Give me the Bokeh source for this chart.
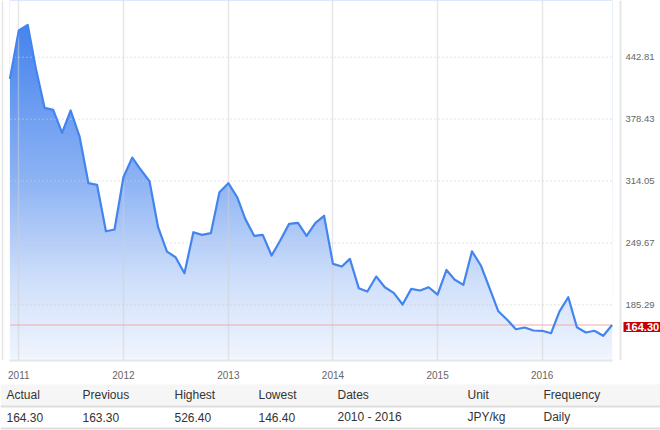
import numpy as np
import pandas as pd
from bokeh.plotting import figure
from bokeh.layouts import column
from bokeh.models import (Range1d, FixedTicker, DatetimeTickFormatter, Label, Span)
from bokeh.embed import file_html
from bokeh.resources import INLINE
from bokeh.core.properties import value

# ---------------- data ----------------
months = pd.date_range("2010-12-01", periods=70, freq="MS")
prices = [
    420.3,
    470.6, 476.5, 432.0, 390.2, 388.1, 364.2, 387.4, 360.3, 311.8, 310.1, 261.8, 263.6,
    318.0, 338.5, 326.0, 313.8, 266.0, 240.7, 234.8, 218.2, 260.8, 258.1, 259.8, 302.4,
    311.8, 297.2, 274.7, 257.1, 258.1, 236.6, 252.2, 269.5, 270.6, 257.1, 270.6, 277.9,
    227.9, 225.1, 233.1, 202.6, 199.1, 214.7, 203.6, 197.8, 185.6, 201.9, 200.2, 203.6,
    196.0, 221.7, 211.6, 206.1, 241.0, 226.2, 203.0, 178.6, 169.7, 159.9, 161.7, 158.6,
    158.3, 155.8, 178.3, 193.2, 162.0, 156.5, 158.3, 153.1, 164.3,
]
year_ticks = [2011, 2012, 2013, 2014, 2015, 2016]
price_ticks = [442.81, 378.43, 314.05, 249.67, 185.29]
headers = ["Actual", "Previous", "Highest", "Lowest", "Dates", "Unit", "Frequency"]
stats = ["164.30", "163.30", "526.40", "146.40", "2010 - 2016", "JPY/kg", "Daily"]

# ---------------- style / layout ----------------
FONT = "Liberation Sans"
LINE = "#4384ee"
GRID = "#e6e6e6"
W = 660
col_x = [6, 82, 174, 258, 337, 467, 543]


def ms(ts):
    return pd.Timestamp(ts).timestamp() * 1000


year_ms = [ms(f"{y}-01-01") for y in year_ticks]
# horizontal calibration: first year tick at px 18.3, last at px 541.7
ms_per_px = (year_ms[-1] - year_ms[0]) / (541.7 - 18.3)
x_start = year_ms[0] - 18.3 * ms_per_px


def px(xpix):
    return x_start + xpix * ms_per_px


y_lo, y_hi = 127.4, 501.8

p = figure(frame_width=W, frame_height=360, x_axis_type="datetime",
           y_axis_location=None,
           x_range=Range1d(px(0), px(W)), y_range=Range1d(y_lo, y_hi),
           toolbar_location=None, output_backend="svg",
           min_border_left=0, min_border_right=0, min_border_top=0,
           min_border_bottom=23)
p.background_fill_color = "white"
p.border_fill_color = "white"
p.outline_line_color = None

# vertical gradient (pre-blended on white), masked above the series
n = 256
ys = np.linspace(y_lo, y_hi, n)
alpha = np.interp(ys, [y_lo, 132, 210, 314, 470, y_hi],
                  [0.05, 0.09, 0.26, 0.62, 1.0, 1.0])
base = (72, 133, 237)
img = np.empty((n, 1), dtype=np.uint32)
view = img.view(dtype=np.uint8).reshape((n, 1, 4))
for i in range(3):
    view[:, 0, i] = np.round(255 - alpha * (255 - base[i])).astype(np.uint8)
view[:, 0, 3] = 255
x0_ms = ms(months[0])
x1_ms = ms(months[-1])
p.image_rgba(image=[img], x=x0_ms, y=y_lo, dw=x1_ms - x0_ms, dh=y_hi - y_lo, level="image")
p.varea(x=months, y1=prices, y2=y_hi, fill_color="white", level="image")

# vertical grid lines at years
p.xgrid.grid_line_color = "#cfcfcf"
p.xgrid.grid_line_alpha = 0.5
p.xgrid.grid_line_width = 1.5
p.ygrid.visible = False

# horizontal dotted grid lines
p.segment(x0=[x0_ms] * len(price_ticks), x1=[x1_ms] * len(price_ticks),
          y0=price_ticks, y1=price_ticks, line_color="#d0d0d0", line_alpha=0.6,
          line_dash="2 2", line_width=1)

# separators left / right
p.add_layout(Span(location=px(2), dimension="height", line_color=GRID, line_width=1.5))
p.add_layout(Span(location=px(620), dimension="height", line_color=GRID, line_width=2))

# last value line
p.line(x=[months[0], months[-1]], y=[prices[-1], prices[-1]],
       line_color="#f2aaaa", line_width=1.2)
# series line
p.line(x=months, y=prices, line_color=LINE, line_width=2.2, line_join="round")

# right-hand value labels
p.text(x=[px(625)] * len(price_ticks), y=price_ticks,
       text=[f"{v:.2f}" for v in price_ticks], text_baseline="middle",
       text_align="left", text_font=value(FONT), text_font_size="9.5px",
       text_color="#666666")

# x axis
p.xaxis.ticker = FixedTicker(ticks=year_ms)
p.xaxis.formatter = DatetimeTickFormatter(years="%Y", months="%Y", days="%Y")
p.xaxis.bounds = (x0_ms, x1_ms)
p.xaxis.major_tick_line_color = None
p.xaxis.minor_tick_line_color = None
p.xaxis.axis_line_color = GRID
p.xaxis.axis_line_width = 2
p.xaxis.major_label_standoff = 4
p.xaxis.major_label_text_font = FONT
p.xaxis.major_label_text_font_size = "10px"
p.xaxis.major_label_text_color = "#666666"

lab = Label(x=px(623), y=prices[-1], y_offset=-2,
            text=f"{prices[-1]:.2f}", text_color="white",
            text_font=FONT, text_font_size="11px", text_font_style="bold",
            text_baseline="middle", text_align="left",
            background_fill_color="#c40000", padding=(2, 1))
p.add_layout(lab)

# ---------------- table ----------------
TH = 47
p2 = figure(width=W, height=TH, x_range=Range1d(0, W), y_range=Range1d(TH, 0),
            x_axis_location=None, y_axis_location=None,
            toolbar_location=None, output_backend="svg", min_border=0)
p2.grid.visible = False
p2.outline_line_color = None
p2.background_fill_color = "white"
p2.border_fill_color = "white"
p2.quad(left=0, right=W, top=1, bottom=23, fill_color="#f6f6f6", line_color=None)
p2.segment(x0=[0, 0], y0=[23, 45], x1=[W, W], y1=[23, 45], line_color="#dddddd", line_width=2)
p2.text(x=col_x, y=[11.3] * len(headers), text=headers, text_baseline="middle",
        text_font=value(FONT), text_font_size="12px", text_color="#333333")
p2.text(x=col_x, y=[33.7] * len(stats), text=stats, text_baseline="middle",
        text_font=value(FONT), text_font_size="12px", text_color="#333333")

layout = column(p, p2)
open("out.html", "w").write(file_html(layout, INLINE))
